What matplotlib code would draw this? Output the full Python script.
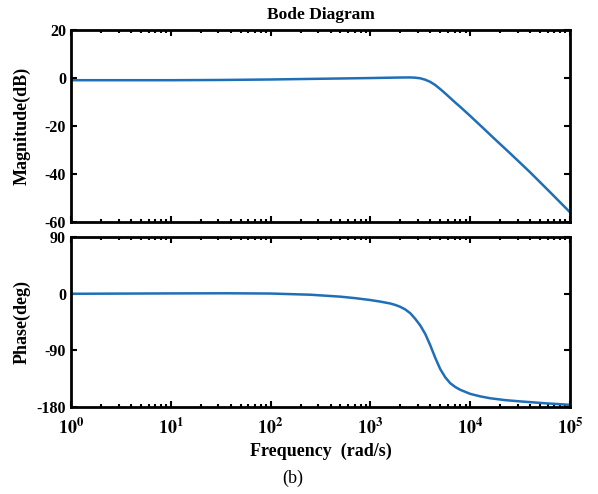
import matplotlib
matplotlib.use("Agg")
import matplotlib.pyplot as plt
from matplotlib.ticker import LogLocator, NullFormatter, FixedLocator

# values (frequency as log10, rad/s)
mag_logw = [0.0, 0.5, 1.0, 1.5, 2.0, 2.5, 3.0, 3.2, 3.3, 3.4, 3.45, 3.5, 3.55, 3.6, 3.65,
            3.7, 3.75, 3.8, 3.85, 3.9, 3.95, 4.0, 4.1, 4.25, 4.4, 4.6, 4.8, 5.0]
mag_db = [-0.9, -0.9, -0.9, -0.8, -0.6, -0.3, 0.0, 0.15, 0.22, 0.25, 0.15, -0.1, -0.7, -1.6, -2.9,
          -4.6, -6.4, -8.3, -10.2, -12.0, -13.9, -15.8, -19.7, -25.6, -31.4, -39.3, -47.6, -56.0]

phase_logw = [0.0, 0.5, 1.0, 1.56, 2.0, 2.4, 2.7, 2.85, 3.0, 3.1, 3.2, 3.25, 3.3, 3.35, 3.4, 3.45,
              3.5, 3.55, 3.6, 3.65, 3.7, 3.75, 3.8, 3.85, 3.9, 4.0, 4.1, 4.2, 4.35, 4.5,
              4.75, 5.0]
phase_deg = [0.0, 0.3, 0.6, 0.8, 0.4, -1.5, -4.6, -7.0, -10.0, -12.5, -15.5, -17.8, -20.8, -25.0, -31.0, -40.0,
             -50.5, -64.0, -82.0, -102.0, -120.0, -133.0, -142.5, -148.5, -153.0, -159.5, -163.5,
             -166.5, -169.5, -171.5, -174.5, -177.0]

mag_ticks = [20, 0, -20, -40, -60]
phase_ticks = [90, 0, -90, -180]
freq_ticks = [1e0, 1e1, 1e2, 1e3, 1e4, 1e5]

plt.rcParams['font.family'] = ['Liberation Serif', 'DejaVu Serif']
plt.rcParams['mathtext.fontset'] = 'stix'
plt.rcParams['axes.unicode_minus'] = False

line_color = '#1f6fb8'

fig = plt.figure(figsize=(5.98, 4.94), dpi=100)
ax1 = fig.add_axes([0.1187, 0.551, 0.8344, 0.388])
ax2 = fig.add_axes([0.1187, 0.1767, 0.8344, 0.3429])

ax1.plot([10 ** v for v in mag_logw], mag_db, color=line_color, lw=1.8)
ax2.plot([10 ** v for v in phase_logw], phase_deg, color=line_color, lw=1.8)

for ax in (ax1, ax2):
    ax.set_xscale('log')
    ax.set_xlim(1e0, 1e5)
    ax.xaxis.set_major_locator(FixedLocator(freq_ticks))
    ax.xaxis.set_minor_locator(LogLocator(base=10, subs=range(2, 10)))
    ax.xaxis.set_minor_formatter(NullFormatter())
    ax.tick_params(which='both', direction='in', top=True, right=True, width=1.5)
    ax.tick_params(which='major', length=4, labelsize=11.5)
    ax.tick_params(which='minor', length=2.5)
    for s in ax.spines.values():
        s.set_linewidth(2.0)

ax1.set_ylim(-60, 20)
ax1.set_yticks(mag_ticks)
ax1.set_yticklabels([str(t) for t in mag_ticks], fontweight='bold')
ax1.set_xticklabels([])
ax1.set_ylabel('Magnitude(dB)', fontsize=13, fontweight='bold')
ax1.yaxis.set_label_coords(-0.08, 0.5)
ax1.set_title('Bode Diagram', fontsize=12.5, fontweight='bold', pad=8)

ax2.set_ylim(-180, 90)
ax2.set_yticks(phase_ticks)
ax2.set_yticklabels([str(t) for t in phase_ticks], fontweight='bold')
ax2.set_xticklabels([r'$\mathbf{10^{%d}}$' % i for i in range(6)], fontsize=13)
ax2.tick_params(axis='x', which='major', pad=8)
ax2.set_ylabel('Phase(deg)', fontsize=13, fontweight='bold')
ax2.yaxis.set_label_coords(-0.08, 0.5)
ax2.set_xlabel('Frequency  (rad/s)', fontsize=13, fontweight='bold', labelpad=3)

fig.text(0.49, 0.032, '(b)', fontsize=13, ha='center', va='center')

fig.savefig('out.png', dpi=100)
